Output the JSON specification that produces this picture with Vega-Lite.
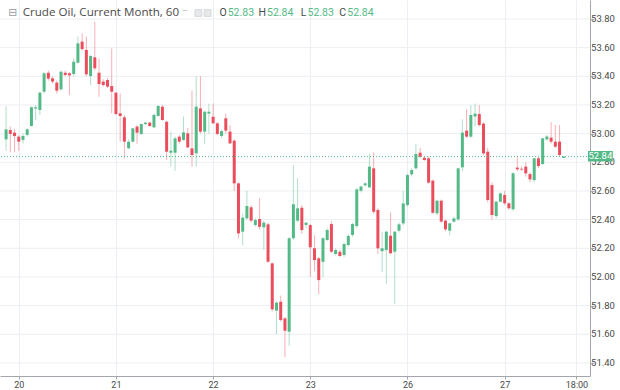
{
  "$schema": "https://vega.github.io/schema/vega-lite/v6.json",
  "width": 590,
  "height": 376,
  "autosize": "none",
  "padding": {"left": 0, "top": 0, "right": 30, "bottom": 14},
  "background": "#ffffff",
  "config": {
    "view": {"stroke": null},
    "axis": {"labelFont": "Roboto", "labelColor": "#4a4a4a", "gridColor": "#ebeef2", "domainColor": "#a3a6ad", "tickColor": "#a3a6ad", "labelOverlap": false}
  },
  "layer": [
    {
      "data": {"values": [{"v":51.4},{"v":51.6},{"v":51.8},{"v":52.0},{"v":52.2},{"v":52.4},{"v":52.6},{"v":52.8},{"v":53.0},{"v":53.2},{"v":53.4},{"v":53.6},{"v":53.8}]},
      "mark": {"type": "rule", "color": "#ebeef2", "strokeWidth": 1},
      "encoding": {
        "y": {"field": "v", "type": "quantitative",
          "scale": {"domain": [51.3088, 53.9326], "nice": false, "zero": false},
          "axis": {"orient": "right", "values": [51.4, 51.6, 51.8, 52.0, 52.2, 52.4, 52.6, 52.8, 53.0, 53.2, 53.4, 53.6, 53.8], "title": null, "grid": false, "labels": false, "ticks": true, "tickSize": 4, "domain": true}}
      }
    },
    {
      "data": {"values": [
        {"i":-3,"o":52.96,"h":53.19,"l":52.88,"c":53.03},
        {"i":-2,"o":53.025,"h":53.05,"l":52.87,"c":52.998},
        {"i":-1,"o":53.007,"h":53.03,"l":52.87,"c":52.983},
        {"i":0,"o":52.979,"h":52.99,"l":52.88,"c":52.944},
        {"i":1,"o":52.956,"h":53.0,"l":52.93,"c":52.984},
        {"i":2,"o":52.991,"h":53.04,"l":52.98,"c":53.03},
        {"i":3,"o":53.053,"h":53.19,"l":53.05,"c":53.184},
        {"i":4,"o":53.175,"h":53.2,"l":53.095,"c":53.184},
        {"i":5,"o":53.165,"h":53.293,"l":53.13,"c":53.286},
        {"i":6,"o":53.293,"h":53.43,"l":53.28,"c":53.421},
        {"i":7,"o":53.425,"h":53.44,"l":53.37,"c":53.384},
        {"i":8,"o":53.386,"h":53.4,"l":53.35,"c":53.363},
        {"i":9,"o":53.356,"h":53.37,"l":53.28,"c":53.3},
        {"i":10,"o":53.309,"h":53.44,"l":53.3,"c":53.432},
        {"i":11,"o":53.425,"h":53.44,"l":53.4,"c":53.409},
        {"i":12,"o":53.421,"h":53.43,"l":53.27,"c":53.407},
        {"i":13,"o":53.416,"h":53.525,"l":53.4,"c":53.502},
        {"i":14,"o":53.495,"h":53.677,"l":53.49,"c":53.63},
        {"i":15,"o":53.642,"h":53.7,"l":53.58,"c":53.59},
        {"i":16,"o":53.584,"h":53.677,"l":53.4,"c":53.414},
        {"i":17,"o":53.402,"h":53.55,"l":53.34,"c":53.542},
        {"i":18,"o":53.533,"h":53.78,"l":53.44,"c":53.456},
        {"i":19,"o":53.425,"h":53.525,"l":53.258,"c":53.346},
        {"i":20,"o":53.363,"h":53.38,"l":53.33,"c":53.339},
        {"i":21,"o":53.374,"h":53.39,"l":53.32,"c":53.328},
        {"i":22,"o":53.332,"h":53.595,"l":53.142,"c":53.293},
        {"i":23,"o":53.286,"h":53.29,"l":53.13,"c":53.137},
        {"i":24,"o":53.142,"h":53.28,"l":52.944,"c":53.123},
        {"i":25,"o":53.114,"h":53.13,"l":52.828,"c":52.944},
        {"i":26,"o":52.898,"h":52.96,"l":52.89,"c":52.944},
        {"i":27,"o":52.944,"h":53.04,"l":52.94,"c":53.037},
        {"i":28,"o":53.049,"h":53.06,"l":52.93,"c":53.007},
        {"i":29,"o":52.998,"h":53.07,"l":52.99,"c":53.067},
        {"i":30,"o":53.067,"h":53.08,"l":53.06,"c":53.077},
        {"i":31,"o":53.077,"h":53.08,"l":53.05,"c":53.053},
        {"i":32,"o":53.044,"h":53.14,"l":53.04,"c":53.13},
        {"i":33,"o":53.123,"h":53.2,"l":53.12,"c":53.193},
        {"i":34,"o":53.188,"h":53.2,"l":53.09,"c":53.095},
        {"i":35,"o":53.083,"h":53.09,"l":52.816,"c":52.874},
        {"i":36,"o":52.867,"h":53.014,"l":52.77,"c":52.881},
        {"i":37,"o":52.867,"h":52.98,"l":52.74,"c":52.967},
        {"i":38,"o":52.979,"h":52.99,"l":52.93,"c":52.944},
        {"i":39,"o":52.956,"h":53.12,"l":52.95,"c":53.009},
        {"i":40,"o":53.002,"h":53.04,"l":52.9,"c":52.904},
        {"i":41,"o":52.897,"h":53.3,"l":52.77,"c":52.851},
        {"i":42,"o":52.863,"h":53.4,"l":52.77,"c":53.188},
        {"i":43,"o":53.176,"h":53.4,"l":53.0,"c":53.014},
        {"i":44,"o":53.014,"h":53.16,"l":52.93,"c":53.153},
        {"i":45,"o":53.14,"h":53.21,"l":53.0,"c":53.153},
        {"i":46,"o":53.118,"h":53.21,"l":53.07,"c":53.072},
        {"i":47,"o":53.072,"h":53.08,"l":52.99,"c":52.998},
        {"i":48,"o":52.984,"h":53.03,"l":52.97,"c":53.018},
        {"i":49,"o":53.107,"h":53.14,"l":53.0,"c":53.021},
        {"i":50,"o":53.014,"h":53.06,"l":52.93,"c":52.932},
        {"i":51,"o":52.951,"h":52.96,"l":52.6,"c":52.653},
        {"i":52,"o":52.653,"h":52.66,"l":52.27,"c":52.304},
        {"i":53,"o":52.316,"h":52.44,"l":52.22,"c":52.414},
        {"i":54,"o":52.409,"h":52.6,"l":52.4,"c":52.495},
        {"i":55,"o":52.486,"h":52.5,"l":52.38,"c":52.393},
        {"i":56,"o":52.363,"h":52.41,"l":52.35,"c":52.397},
        {"i":57,"o":52.404,"h":52.55,"l":52.33,"c":52.35},
        {"i":58,"o":52.346,"h":52.39,"l":52.19,"c":52.379},
        {"i":59,"o":52.367,"h":52.38,"l":52.1,"c":52.106},
        {"i":60,"o":52.095,"h":52.1,"l":51.76,"c":51.774},
        {"i":61,"o":51.765,"h":51.83,"l":51.6,"c":51.82},
        {"i":62,"o":51.827,"h":51.87,"l":51.69,"c":51.699},
        {"i":63,"o":51.711,"h":51.72,"l":51.44,"c":51.625},
        {"i":64,"o":51.618,"h":52.28,"l":51.52,"c":52.27},
        {"i":65,"o":52.27,"h":52.78,"l":52.26,"c":52.507},
        {"i":66,"o":52.393,"h":52.69,"l":52.38,"c":52.479},
        {"i":67,"o":52.483,"h":52.5,"l":52.3,"c":52.327},
        {"i":68,"o":52.363,"h":52.38,"l":52.34,"c":52.379},
        {"i":69,"o":52.362,"h":52.37,"l":52.0,"c":52.207},
        {"i":70,"o":52.2,"h":52.29,"l":52.04,"c":52.118},
        {"i":71,"o":52.13,"h":52.14,"l":51.88,"c":51.978},
        {"i":72,"o":52.106,"h":52.28,"l":52.0,"c":52.27},
        {"i":73,"o":52.258,"h":52.34,"l":52.25,"c":52.328},
        {"i":74,"o":52.369,"h":52.39,"l":52.17,"c":52.176},
        {"i":75,"o":52.16,"h":52.2,"l":52.15,"c":52.188},
        {"i":76,"o":52.176,"h":52.19,"l":52.14,"c":52.146},
        {"i":77,"o":52.153,"h":52.24,"l":52.14,"c":52.23},
        {"i":78,"o":52.223,"h":52.3,"l":52.21,"c":52.286},
        {"i":79,"o":52.293,"h":52.38,"l":52.28,"c":52.369},
        {"i":80,"o":52.355,"h":52.62,"l":52.34,"c":52.611},
        {"i":81,"o":52.602,"h":52.64,"l":52.59,"c":52.63},
        {"i":82,"o":52.64,"h":52.66,"l":52.63,"c":52.653},
        {"i":83,"o":52.625,"h":52.86,"l":52.62,"c":52.77},
        {"i":84,"o":52.758,"h":52.87,"l":52.44,"c":52.455},
        {"i":85,"o":52.467,"h":52.48,"l":52.16,"c":52.2},
        {"i":86,"o":52.18,"h":52.316,"l":52.035,"c":52.2},
        {"i":87,"o":52.188,"h":52.32,"l":51.95,"c":52.316},
        {"i":88,"o":52.288,"h":52.45,"l":52.16,"c":52.165},
        {"i":89,"o":52.176,"h":52.32,"l":51.81,"c":52.316},
        {"i":90,"o":52.323,"h":52.38,"l":52.31,"c":52.367},
        {"i":91,"o":52.374,"h":52.6,"l":52.36,"c":52.513},
        {"i":92,"o":52.502,"h":52.72,"l":52.49,"c":52.711},
        {"i":93,"o":52.716,"h":52.76,"l":52.7,"c":52.746},
        {"i":94,"o":52.758,"h":52.93,"l":52.75,"c":52.858},
        {"i":95,"o":52.867,"h":52.9,"l":52.83,"c":52.839},
        {"i":96,"o":52.832,"h":52.84,"l":52.81,"c":52.816},
        {"i":97,"o":52.828,"h":52.84,"l":52.65,"c":52.658},
        {"i":98,"o":52.672,"h":52.68,"l":52.44,"c":52.448},
        {"i":99,"o":52.444,"h":52.54,"l":52.43,"c":52.532},
        {"i":100,"o":52.532,"h":52.54,"l":52.38,"c":52.386},
        {"i":101,"o":52.393,"h":52.4,"l":52.32,"c":52.332},
        {"i":102,"o":52.323,"h":52.38,"l":52.29,"c":52.374},
        {"i":103,"o":52.386,"h":52.42,"l":52.38,"c":52.409},
        {"i":104,"o":52.402,"h":52.76,"l":52.39,"c":52.758},
        {"i":105,"o":52.765,"h":53.1,"l":52.74,"c":53.007},
        {"i":106,"o":53.021,"h":53.17,"l":52.97,"c":52.979},
        {"i":107,"o":52.979,"h":53.2,"l":52.97,"c":53.13},
        {"i":108,"o":53.12,"h":53.21,"l":53.05,"c":53.14},
        {"i":109,"o":53.137,"h":53.2,"l":53.05,"c":53.06},
        {"i":110,"o":53.07,"h":53.08,"l":52.85,"c":52.862},
        {"i":111,"o":52.874,"h":52.9,"l":52.52,"c":52.537},
        {"i":112,"o":52.641,"h":52.66,"l":52.4,"c":52.432},
        {"i":113,"o":52.425,"h":52.53,"l":52.41,"c":52.525},
        {"i":114,"o":52.525,"h":52.59,"l":52.52,"c":52.583},
        {"i":115,"o":52.572,"h":52.6,"l":52.5,"c":52.514},
        {"i":116,"o":52.514,"h":52.52,"l":52.47,"c":52.479},
        {"i":117,"o":52.472,"h":52.73,"l":52.46,"c":52.723},
        {"i":118,"o":52.763,"h":52.84,"l":52.74,"c":52.751},
        {"i":119,"o":52.755,"h":52.77,"l":52.74,"c":52.75},
        {"i":120,"o":52.77,"h":52.8,"l":52.7,"c":52.723},
        {"i":121,"o":52.718,"h":52.73,"l":52.66,"c":52.681},
        {"i":122,"o":52.676,"h":52.83,"l":52.66,"c":52.828},
        {"i":123,"o":52.828,"h":52.84,"l":52.76,"c":52.774},
        {"i":124,"o":52.788,"h":52.97,"l":52.78,"c":52.967},
        {"i":125,"o":52.96,"h":52.99,"l":52.95,"c":52.98},
        {"i":126,"o":52.972,"h":53.08,"l":52.93,"c":52.944},
        {"i":127,"o":52.944,"h":53.06,"l":52.9,"c":52.909},
        {"i":128,"o":52.944,"h":53.06,"l":52.84,"c":52.851},
        {"i":129,"o":52.83,"h":52.84,"l":52.83,"c":52.84}
      ]},
      "layer": [
        {
          "mark": {"type": "rule", "strokeWidth": 1, "opacity": 0.45},
          "encoding": {
            "x": {"field": "i", "type": "quantitative",
              "scale": {"domain": [-3.257, 134.02], "nice": false, "zero": false},
              "axis": {"values": [0, 23, 46, 69, 92, 115, 132], "title": null, "grid": true, "tickSize": 3, "labelFontSize": 9, "labelPadding": 1, "labelOverlap": false,
                "labelExpr": "datum.value == 0 ? '20' : datum.value == 23 ? '21' : datum.value == 46 ? '22' : datum.value == 69 ? '23' : datum.value == 92 ? '26' : datum.value == 115 ? '27' : '18:00'"}},
            "y": {"field": "l", "type": "quantitative"},
            "y2": {"field": "h"},
            "color": {"condition": {"test": "datum.c >= datum.o", "value": "#53b987"}, "value": "#eb4d5c"}
          }
        },
        {
          "mark": {"type": "bar", "size": 3},
          "encoding": {
            "x": {"field": "i", "type": "quantitative"},
            "y": {"field": "o", "type": "quantitative"},
            "y2": {"field": "c"},
            "color": {"condition": {"test": "datum.c >= datum.o", "value": "#53b987"}, "value": "#eb4d5c"}
          }
        }
      ]
    },
    {
      "data": {"values": [{}]},
      "mark": {"type": "rule", "color": "#53b987", "strokeDash": [1, 2], "strokeWidth": 1},
      "encoding": {"y": {"datum": 52.84, "type": "quantitative"}}
    },
    {
      "data": {"values": [{"v":51.4},{"v":51.6},{"v":51.8},{"v":52.0},{"v":52.2},{"v":52.4},{"v":52.6},{"v":52.8},{"v":53.0},{"v":53.2},{"v":53.4},{"v":53.6},{"v":53.8}]},
      "mark": {"type": "text", "color": "#4a4a4a", "font": "Roboto", "fontSize": 9.5, "align": "left", "baseline": "middle", "clip": false},
      "encoding": {
        "x": {"datum": 135.45, "type": "quantitative"},
        "y": {"field": "v", "type": "quantitative"},
        "text": {"field": "v", "type": "quantitative", "format": ".2f"}
      }
    },
    {
      "data": {"values": [{}]},
      "mark": {"type": "rect", "color": "#53b987", "clip": false},
      "encoding": {
        "x": {"datum": 134.72, "type": "quantitative"},
        "x2": {"datum": 140.6},
        "y": {"datum": 52.879, "type": "quantitative"},
        "y2": {"datum": 52.806}
      }
    },
    {
      "data": {"values": [{}]},
      "mark": {"type": "text", "text": "52.84", "color": "#ffffff", "font": "Roboto", "fontSize": 9.5, "align": "center", "baseline": "middle"},
      "encoding": {
        "x": {"datum": 137.66, "type": "quantitative"},
        "y": {"datum": 52.8425, "type": "quantitative"}
      }
    },
    {
      "data": {"values": [{}]},
      "mark": {"type": "text", "text": "⊟", "color": "#9a9ea6", "font": "DejaVu Sans", "fontSize": 11, "align": "center", "baseline": "middle"},
      "encoding": {"x": {"datum": -1.4, "type": "quantitative"}, "y": {"datum": 53.842, "type": "quantitative"}}
    },
    {
      "data": {"values": [{}]},
      "mark": {"type": "text", "text": "Crude Oil, Current Month, 60", "color": "#4a4a4a", "font": "Open Sans", "fontSize": 11.6, "align": "left", "baseline": "middle"},
      "encoding": {"x": {"datum": 0.93, "type": "quantitative"}, "y": {"datum": 53.842, "type": "quantitative"}}
    },
    {
      "data": {"values": [{}]},
      "mark": {"type": "text", "text": "⁻", "color": "#9a9ea6", "font": "DejaVu Sans", "fontSize": 11, "align": "center", "baseline": "middle"},
      "encoding": {"x": {"datum": 39.3, "type": "quantitative"}, "y": {"datum": 53.842, "type": "quantitative"}}
    },
    {
      "data": {"values": [{}]},
      "mark": {"type": "point", "shape": "square", "size": 45, "filled": true, "color": "#dcdfe3", "stroke": "#c3c6cc", "strokeWidth": 1},
      "encoding": {"x": {"datum": 42.5, "type": "quantitative"}, "y": {"datum": 53.842, "type": "quantitative"}}
    },
    {
      "data": {"values": [{}]},
      "mark": {"type": "point", "shape": "square", "size": 45, "filled": true, "color": "#dcdfe3", "stroke": "#c3c6cc", "strokeWidth": 1},
      "encoding": {"x": {"datum": 44.7, "type": "quantitative"}, "y": {"datum": 53.842, "type": "quantitative"}}
    },
    {
      "data": {"values": [{}]},
      "mark": {"type": "text", "text": "O", "color": "#4a4a4a", "font": "Roboto", "fontSize": 10.5, "align": "right", "baseline": "middle"},
      "encoding": {"x": {"datum": 49.2, "type": "quantitative"}, "y": {"datum": 53.842, "type": "quantitative"}}
    },
    {
      "data": {"values": [{}]},
      "mark": {"type": "text", "text": "52.83", "color": "#53b987", "font": "Roboto", "fontSize": 10.5, "align": "left", "baseline": "middle"},
      "encoding": {"x": {"datum": 49.45, "type": "quantitative"}, "y": {"datum": 53.842, "type": "quantitative"}}
    },
    {
      "data": {"values": [{}]},
      "mark": {"type": "text", "text": "H", "color": "#4a4a4a", "font": "Roboto", "fontSize": 10.5, "align": "right", "baseline": "middle"},
      "encoding": {"x": {"datum": 58.5, "type": "quantitative"}, "y": {"datum": 53.842, "type": "quantitative"}}
    },
    {
      "data": {"values": [{}]},
      "mark": {"type": "text", "text": "52.84", "color": "#53b987", "font": "Roboto", "fontSize": 10.5, "align": "left", "baseline": "middle"},
      "encoding": {"x": {"datum": 58.75, "type": "quantitative"}, "y": {"datum": 53.842, "type": "quantitative"}}
    },
    {
      "data": {"values": [{}]},
      "mark": {"type": "text", "text": "L", "color": "#4a4a4a", "font": "Roboto", "fontSize": 10.5, "align": "right", "baseline": "middle"},
      "encoding": {"x": {"datum": 68.1, "type": "quantitative"}, "y": {"datum": 53.842, "type": "quantitative"}}
    },
    {
      "data": {"values": [{}]},
      "mark": {"type": "text", "text": "52.83", "color": "#53b987", "font": "Roboto", "fontSize": 10.5, "align": "left", "baseline": "middle"},
      "encoding": {"x": {"datum": 68.35, "type": "quantitative"}, "y": {"datum": 53.842, "type": "quantitative"}}
    },
    {
      "data": {"values": [{}]},
      "mark": {"type": "text", "text": "C", "color": "#4a4a4a", "font": "Roboto", "fontSize": 10.5, "align": "right", "baseline": "middle"},
      "encoding": {"x": {"datum": 77.5, "type": "quantitative"}, "y": {"datum": 53.842, "type": "quantitative"}}
    },
    {
      "data": {"values": [{}]},
      "mark": {"type": "text", "text": "52.84", "color": "#53b987", "font": "Roboto", "fontSize": 10.5, "align": "left", "baseline": "middle"},
      "encoding": {"x": {"datum": 77.75, "type": "quantitative"}, "y": {"datum": 53.842, "type": "quantitative"}}
    }
  ]
}
